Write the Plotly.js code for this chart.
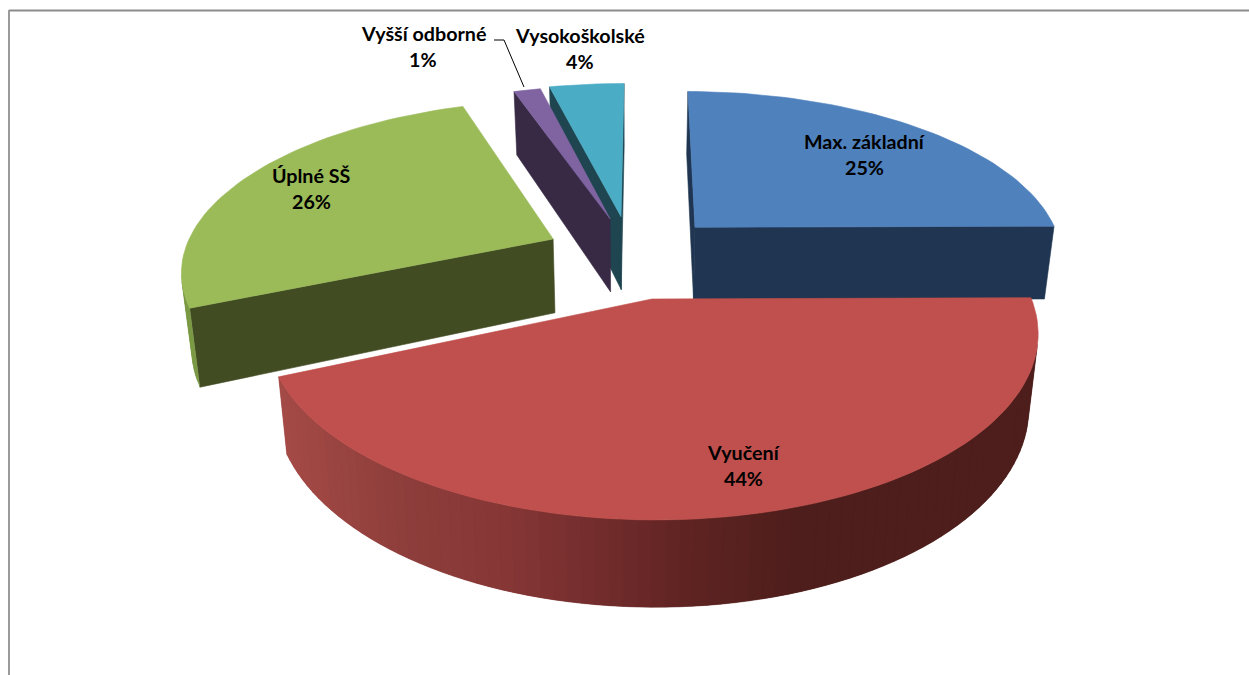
<!DOCTYPE html>
<html>
<head>
<meta charset="utf-8">
<script src="https://cdn.plot.ly/plotly-3.0.1.min.js"></script>
<style>html,body{margin:0;padding:0;background:#fff}#chart{width:1249px;height:675px}</style>
</head>
<body>
<div id="chart"></div>
<script>
// Data
const categories = ['Max. základní', 'Vyučení', 'Úplné SŠ', 'Vyšší odborné', 'Vysokoškolské'];
const shares = [24.8, 43.6, 26.3, 1.4, 3.9];
const faceColors = ['#4F81BD', '#C0504D', '#9BBB59', '#8064A2', '#4BACC6'];
const wallColors = ['#1F3551', '#4E1E1C', '#414C23', '#382A45', '#1E4550'];
const drawOrder = [4, 3, 0, 2, 1];
const labelCentres = [[864, 141, 167], [743, 452, 478], [311, 175, 201], [423, 33, 59], [580, 35, 61]];
const sliceDepths = [75, 69, 75, 76, 76];
const sliceScaleX = [1, 0.985, 1, 1, 1];
const sliceShiftX = [1, 0, 0, 1, -2];
const sliceShiftY = [0, 3, 0, 1, 0];
const redRampX = [280, 400, 500, 640, 700, 800, 1035];
const redRampRGB = [[164, 74, 70], [142, 62, 59], [134, 55, 54], [106, 40, 40], [92, 35, 33], [78, 30, 28], [78, 30, 28]];

// Projection of the tilted pie into the pixel-scaled axes
const cx = 633, cy = 255, kx = 370, ky = 167.6, persp = 0.17, bottomScale = 0.977, explode = 0.24, startDeg = 0.3;
function proj(u, v, i, low) {
  const s = 1 + persp * v;
  let X = cx + sliceScaleX[i] * kx * u / s, Y = cy + sliceShiftY[i] - ky * v / s;
  if (low) { X = cx + (X - cx) * bottomScale; Y += sliceDepths[i] / s; }
  return [X + sliceShiftX[i], Y];
}
const total = shares.reduce((a, b) => a + b, 0);
const traces = [];
function poly(pts, fill, lw) {
  traces.push({
    type: 'scatter', mode: 'lines', x: pts.map(p => p[0]).concat(pts[0][0]), y: pts.map(p => p[1]).concat(pts[0][1]),
    fill: 'toself', fillcolor: fill, line: {color: fill, width: lw}, hoverinfo: 'skip', showlegend: false
  });
}
function area(pts) {
  let a = 0;
  pts.forEach((p, i) => { const q = pts[(i + 1) % pts.length]; a += p[0] * q[1] - q[0] * p[1]; });
  return a / 2;
}
function ramp(x) {
  let i = 0;
  while (i < redRampX.length - 2 && x > redRampX[i + 1]) i++;
  const t = Math.max(0, Math.min(1, (x - redRampX[i]) / (redRampX[i + 1] - redRampX[i])));
  const c = redRampRGB[i].map((v, j) => Math.round(v + (redRampRGB[i + 1][j] - v) * t));
  return `rgb(${c[0]},${c[1]},${c[2]})`;
}
let acc = 0;
const start = startDeg * Math.PI / 180;
const slices = shares.map((val, i) => {
  const a0 = start + acc / total * 2 * Math.PI; acc += val;
  const a1 = start + acc / total * 2 * Math.PI;
  return {i, a0, a1};
});
drawOrder.forEach(idx => {
  const {i, a0, a1} = slices[idx];
  const mid = (a0 + a1) / 2, ou = explode * Math.sin(mid), ov = explode * Math.cos(mid);
  const n = Math.max(4, Math.ceil((a1 - a0) / (2 * Math.PI) * 200));
  const rim = [];
  for (let j = 0; j <= n; j++) {
    const a = a0 + (a1 - a0) * j / n;
    rim.push([ou + Math.sin(a), ov + Math.cos(a)]);
  }
  const ring = [[ou, ov]].concat(rim);
  // walls: every edge of the top face, in order, extruded downward; rim strips overlap the next one to hide seams
  for (let j = 0; j < ring.length; j++) {
    const a = ring[j], b = ring[(j + 1) % ring.length];
    const quad = [proj(a[0], a[1], i), proj(b[0], b[1], i), proj(b[0], b[1], i, true), proj(a[0], a[1], i, true)];
    if (area(quad) >= 0) continue;
    const isRim = j > 0 && j < ring.length - 1;
    let col = wallColors[i];
    if (isRim && i === 1) col = ramp((quad[0][0] + quad[1][0]) / 2);
    if (isRim && i === 2) col = '#7C9A45';
    let drawn = quad;
    if (isRim && j + 2 < ring.length) {
      const c = ring[j + 2];
      drawn = [quad[0], proj(c[0], c[1], i), proj(c[0], c[1], i, true), quad[3]];
    }
    poly(drawn, col, isRim ? 0.3 : 0.6);
  }
  poly(ring.map(p => proj(p[0], p[1], i)), faceColors[i], 0.6);
});

// leader line for the smallest slice
traces.push({type: 'scatter', mode: 'lines', x: [494, 504, 524], y: [40, 40, 87],
  line: {color: '#000', width: 1}, hoverinfo: 'skip', showlegend: false});

const annotations = [];
categories.forEach((c, i) => {
  const pos = labelCentres[i];
  const pct = Math.round(shares[i] / total * 100) + '%';
  [[c, pos[1]], [pct, pos[2]]].forEach(([t, y]) => annotations.push({
    x: pos[0], y, xref: 'x', yref: 'y', text: '<b>' + t + '</b>', showarrow: false,
    xanchor: 'center', yanchor: 'middle',
    font: {family: 'Lato, "Open Sans", sans-serif', size: 19.7, color: '#000'}
  }));
});

const layout = {
  width: 1249, height: 675, margin: {l: 0, r: 0, t: 0, b: 0},
  paper_bgcolor: '#fff', plot_bgcolor: '#fff', showlegend: false,
  xaxis: {range: [0, 1249], visible: false, fixedrange: true},
  yaxis: {range: [675, 0], visible: false, fixedrange: true},
  annotations,
  shapes: [
    {type: 'line', xref: 'x', yref: 'y', x0: 9, x1: 1249, y0: 10.5, y1: 10.5, line: {color: '#8c8c8c', width: 2}},
    {type: 'line', xref: 'x', yref: 'y', x0: 9, x1: 9, y0: 10, y1: 675, line: {color: '#9a9a9a', width: 2}}
  ]
};
Plotly.newPlot('chart', traces, layout, {displayModeBar: false, staticPlot: true});
</script>
</body>
</html>
